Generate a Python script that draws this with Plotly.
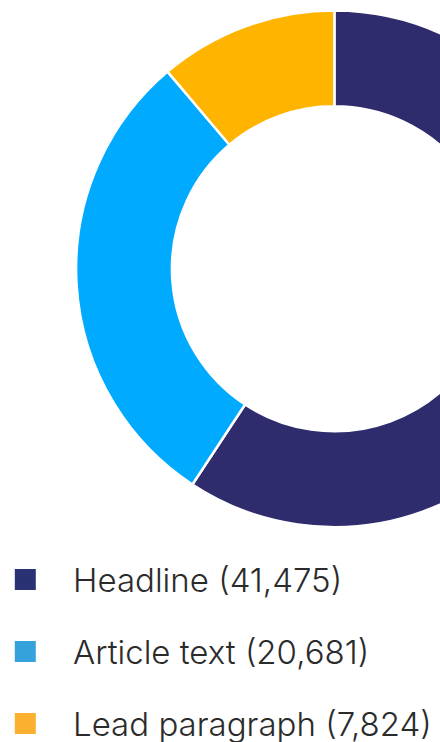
import plotly.graph_objects as go

# ---- data ----
categories = ["Headline", "Article text", "Lead paragraph"]
values = [41475, 20681, 7824]
slice_colors = ["#2f2c6e", "#00aaff", "#ffb400"]
legend_colors = ["#293273", "#36a2dc", "#fbb030"]

W, H = 600, 742
cx, cy, r = 334.4, 268.8, 258.3

fig = go.Figure()
fig.add_trace(go.Pie(
    labels=categories,
    values=values,
    sort=False,
    direction="clockwise",
    rotation=0,
    hole=0.629,
    marker=dict(colors=slice_colors, line=dict(color="white", width=2.5)),
    textinfo="none",
    showlegend=False,
    domain=dict(x=[(cx - r) / W, (cx + r) / W], y=[1 - (cy + r) / H, 1 - (cy - r) / H]),
))

for cat, val, col in zip(categories, values, legend_colors):
    fig.add_trace(go.Scatter(
        x=[None], y=[None], mode="markers",
        name="\u2002\u2005\u200a" + f"{cat} ({val:,})",
        legendgroup=cat,
        marker=dict(symbol="square", size=16, color=col, line=dict(color=col, width=5)),
        hoverinfo="skip",
    ))

fig.update_layout(
    width=W, height=H,
    margin=dict(l=0, r=0, t=0, b=0, autoexpand=False),
    paper_bgcolor="white", plot_bgcolor="white",
    xaxis=dict(visible=False), yaxis=dict(visible=False),
    showlegend=True,
    legend=dict(
        x=5.3 / W, xanchor="left", y=1 - 551.5 / H, yanchor="top",
        traceorder="grouped", tracegroupgap=26.1,
        font=dict(family="Inter", size=33, color="#2b2b2b", weight=300),
        itemwidth=30, bgcolor="rgba(0,0,0,0)",
    ),
)

fig.write_html(
    "out.html",
    post_script="document.documentElement.style.overflow='hidden';document.body.style.overflow='hidden';document.body.style.margin='0';",
)
